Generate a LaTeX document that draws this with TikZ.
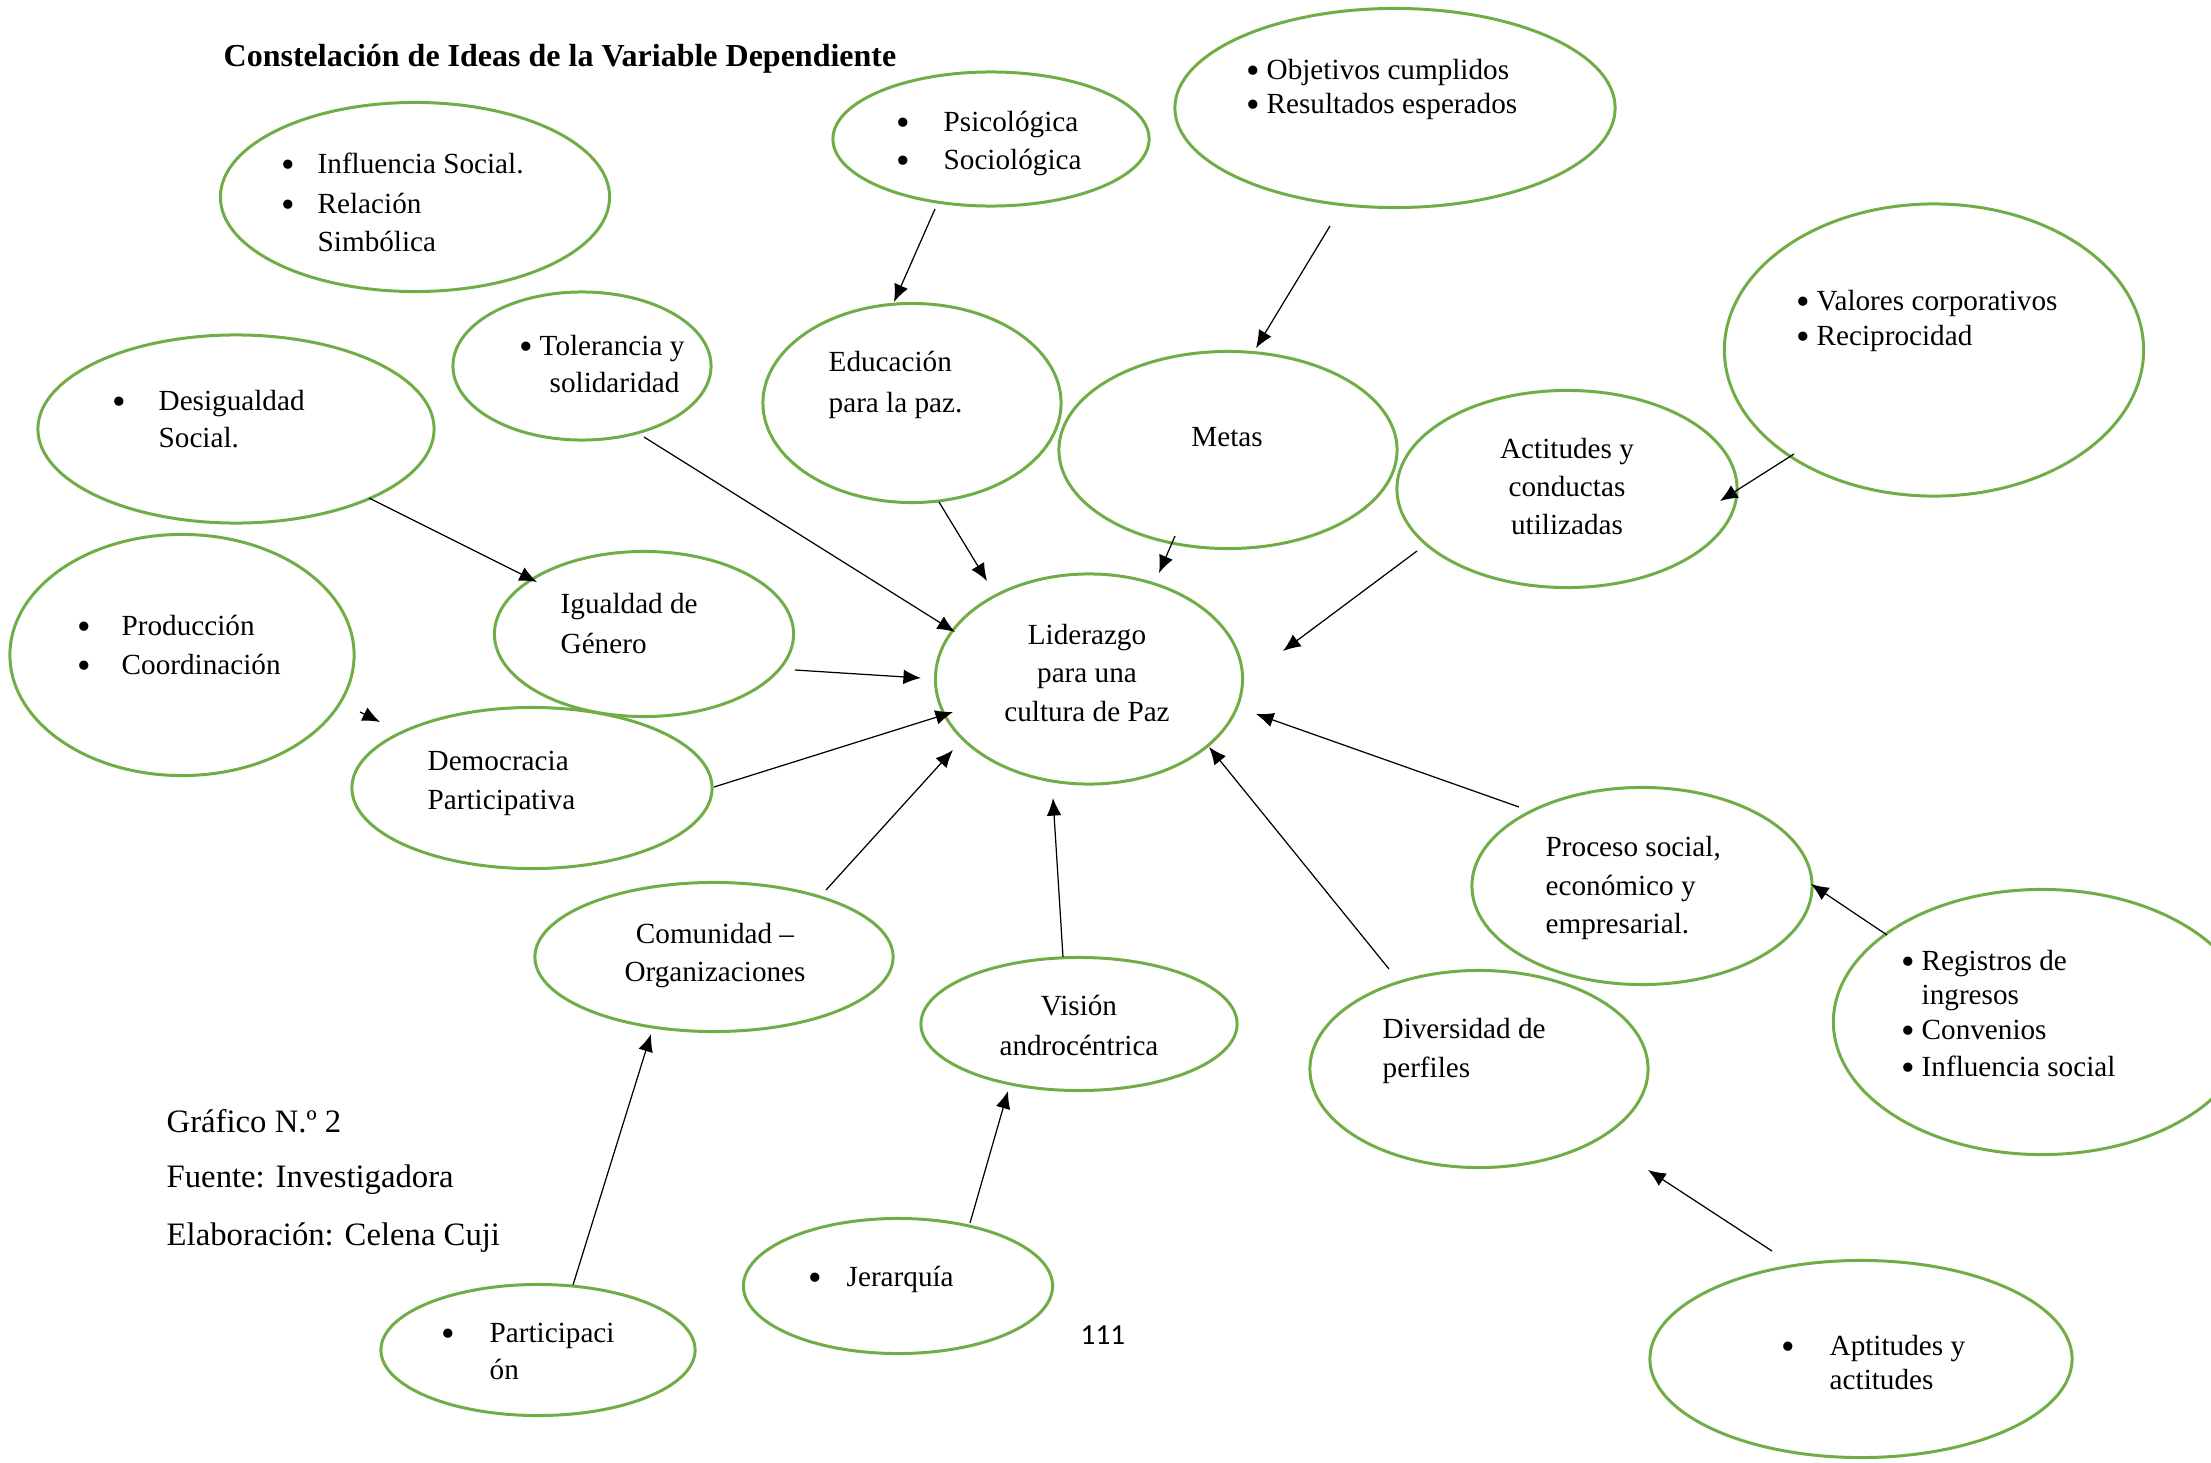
\documentclass[tikz,border=0pt]{standalone}
\usepackage{fontspec}
\setmainfont{Liberation Serif}
\newfontfamily\pagenumfont{Carlito}
\usetikzlibrary{shapes.geometric,arrows.meta}
\definecolor{egreen}{RGB}{112,173,71}
\newcommand{\bulmark}{\raisebox{-1.3pt}{\fontsize{11}{11}\selectfont •}}
\tikzset{
  ell/.style={ellipse, draw=egreen, line width=0.85pt, inner sep=0pt},
  txt/.style={anchor=base west, inner sep=0pt, font=\fontsize{8.3}{10}\selectfont},
  bul/.style={anchor=base west, inner sep=0pt},
  ctxt/.style={anchor=base, inner sep=0pt, font=\fontsize{8.3}{10}\selectfont},
  lbl/.style={anchor=base west, inner sep=0pt, font=\fontsize{9.3}{11}\selectfont},
  arr/.style={-{Latex[length=5pt,width=4.2pt]}, line width=0.35pt, black}
}
\begin{document}
\begin{tikzpicture}[x=0.01cm,y=-0.01cm]
\useasboundingbox (0,0) rectangle (2211,1463);
\clip (0,0) rectangle (2211,1463);
% ellipses
\node[ell, minimum width=3.89cm, minimum height=1.89cm] (infl) at (415,197) {};
\node[ell, minimum width=3.16cm, minimum height=1.34cm] (psic) at (991,139) {};
\node[ell, minimum width=4.40cm, minimum height=1.99cm] (obj) at (1395,108) {};
\node[ell, minimum width=4.19cm, minimum height=2.92cm] (val) at (1934,350) {};
\node[ell, minimum width=2.58cm, minimum height=1.48cm] (tol) at (582,366) {};
\node[ell, minimum width=2.98cm, minimum height=1.99cm] (edu) at (912,403) {};
\node[ell, minimum width=3.96cm, minimum height=1.88cm] (desig) at (236,429) {};
\node[ell, minimum width=3.38cm, minimum height=1.97cm] (metas) at (1228,450) {};
\node[ell, minimum width=3.40cm, minimum height=1.97cm] (acti) at (1567,489) {};
\node[ell, minimum width=3.44cm, minimum height=2.41cm] (prod) at (182,655) {};
\node[ell, minimum width=2.99cm, minimum height=1.65cm] (igual) at (644,634) {};
\node[ell, minimum width=3.07cm, minimum height=2.10cm] (lider) at (1089,679) {};
\node[ell, minimum width=3.60cm, minimum height=1.61cm] (demo) at (532,788) {};
\node[ell, minimum width=3.40cm, minimum height=1.97cm] (proc) at (1642,886) {};
\node[ell, minimum width=4.17cm, minimum height=2.65cm] (regis) at (2042,1022) {};
\node[ell, minimum width=3.58cm, minimum height=1.49cm] (comu) at (714,957) {};
\node[ell, minimum width=3.16cm, minimum height=1.33cm] (vision) at (1079,1024) {};
\node[ell, minimum width=3.38cm, minimum height=1.97cm] (diver) at (1479,1069) {};
\node[ell, minimum width=3.14cm, minimum height=1.31cm] (parti) at (538,1350) {};
\node[ell, minimum width=3.09cm, minimum height=1.35cm] (jerar) at (898,1286) {};
\node[ell, minimum width=4.22cm, minimum height=1.97cm] (aptit) at (1861,1359) {};
% texts
\node[anchor=base west, inner sep=0pt, font=\fontsize{9.1}{11}\selectfont\bfseries] (title) at (223,66) {Constelación de Ideas de la Variable Dependiente};
\node[bul] (b1a) at (281,173) {\bulmark};
\node[txt] (t1a) at (317,173) {Influencia Social.};
\node[bul] (b1b) at (281,213) {\bulmark};
\node[txt] (t1b) at (317,213) {Relación};
\node[txt] (t1c) at (317,251) {Simbólica};
\node[bul] (b2a) at (896,131) {\bulmark};
\node[txt] (t2a) at (943,131) {Psicológica};
\node[bul] (b2b) at (896,169) {\bulmark};
\node[txt] (t2b) at (943,169) {Sociológica};
\node[bul] (b3a) at (1246,79) {\bulmark};
\node[txt] (t3a) at (1266,79) {Objetivos cumplidos};
\node[bul] (b3b) at (1246,113) {\bulmark};
\node[txt] (t3b) at (1266,113) {Resultados esperados};
\node[bul] (b4a) at (1796,310) {\bulmark};
\node[txt] (t4a) at (1816,310) {Valores corporativos};
\node[bul] (b4b) at (1796,345) {\bulmark};
\node[txt] (t4b) at (1816,345) {Reciprocidad};
\node[bul] (b5a) at (519,355) {\bulmark};
\node[txt] (t5a) at (539,355) {Tolerancia y};
\node[txt] (t5b) at (549,392) {solidaridad};
\node[txt] (t6a) at (828,371) {Educación};
\node[txt] (t6b) at (828,412) {para la paz.};
\node[bul] (b7a) at (112,410) {\bulmark};
\node[txt] (t7a) at (158,410) {Desigualdad};
\node[txt] (t7b) at (158,447) {Social.};
\node[ctxt] (t8a) at (1227,446) {Metas};
\node[ctxt] (t9a) at (1567,458) {Actitudes y};
\node[ctxt] (t9b) at (1567,496) {conductas};
\node[ctxt] (t9c) at (1567,534) {utilizadas};
\node[bul] (b10a) at (77,635) {\bulmark};
\node[txt] (t10a) at (121,635) {Producción};
\node[bul] (b10b) at (77,674) {\bulmark};
\node[txt] (t10b) at (121,674) {Coordinación};
\node[txt] (t11a) at (560,613) {Igualdad de};
\node[txt] (t11b) at (560,653) {Género};
\node[ctxt] (t12a) at (1087,644) {Liderazgo};
\node[ctxt] (t12b) at (1087,682) {para una};
\node[ctxt] (t12c) at (1087,721) {cultura de Paz};
\node[txt] (t13a) at (427,770) {Democracia};
\node[txt] (t13b) at (427,809) {Participativa};
\node[txt] (t14a) at (1545,856) {Proceso social,};
\node[txt] (t14b) at (1545,895) {económico y};
\node[txt] (t14c) at (1545,933) {empresarial.};
\node[bul] (b15a) at (1901,970) {\bulmark};
\node[txt] (t15a) at (1921,970) {Registros de};
\node[txt] (t15b) at (1921,1004) {ingresos};
\node[bul] (b15c) at (1901,1039) {\bulmark};
\node[txt] (t15c) at (1921,1039) {Convenios};
\node[bul] (b15d) at (1901,1076) {\bulmark};
\node[txt] (t15d) at (1921,1076) {Influencia social};
\node[ctxt] (t16a) at (715,943) {Comunidad –};
\node[ctxt] (t16b) at (715,981) {Organizaciones};
\node[ctxt] (t17a) at (1079,1015) {Visión};
\node[ctxt] (t17b) at (1079,1055) {androcéntrica};
\node[txt] (t18a) at (1382,1038) {Diversidad de};
\node[txt] (t18b) at (1382,1077) {perfiles};
\node[bul] (b19a) at (441,1342) {\bulmark};
\node[txt] (t19a) at (489,1342) {Participaci};
\node[txt] (t19b) at (489,1379) {ón};
\node[bul] (b20a) at (808,1286) {\bulmark};
\node[txt] (t20a) at (846,1286) {Jerarquía};
\node[bul] (b21a) at (1781,1355) {\bulmark};
\node[txt] (t21a) at (1829,1355) {Aptitudes y};
\node[txt] (t21b) at (1829,1389) {actitudes};
\node[anchor=base west, inner sep=0pt, font=\pagenumfont\fontsize{8.3}{10}\selectfont] (pnum) at (1080,1344) {111};
\node[lbl] (g1) at (166,1132) {Gráfico N.º 2};
\node[lbl] (g2) at (166,1187) {Fuente: Investigadora};
\node[lbl] (g3) at (166,1245) {Elaboración: Celena Cuji};
% connector end points
\coordinate (aS) at (935,209);  \coordinate (aE) at (894,302);
\coordinate (bS) at (1330,226); \coordinate (bE) at (1256,348);
\coordinate (cS) at (1794,454); \coordinate (cE) at (1720,501);
\coordinate (dS) at (644,437);  \coordinate (dE) at (955,632);
\coordinate (eS) at (939,502);  \coordinate (eE) at (987,581);
\coordinate (fS) at (1175,536); \coordinate (fE) at (1159,573);
\coordinate (gS) at (1417,551); \coordinate (gE) at (1283,651);
\coordinate (hS) at (369,498);  \coordinate (hE) at (537,582);
\coordinate (iS) at (795,670);  \coordinate (iE) at (921,678);
\coordinate (jS) at (360,712);  \coordinate (jE) at (380,722);
\coordinate (kS) at (714,787);  \coordinate (kE) at (953,712);
\coordinate (lS) at (826,890);  \coordinate (lE) at (953,750);
\coordinate (mS) at (1063,957); \coordinate (mE) at (1053,798);
\coordinate (nS) at (1389,969); \coordinate (nE) at (1209,747);
\coordinate (oS) at (1519,807); \coordinate (oE) at (1256,714);
\coordinate (pS) at (1887,935); \coordinate (pE) at (1811,884);
\coordinate (qS) at (573,1285); \coordinate (qE) at (651,1034);
\coordinate (rS) at (970,1223); \coordinate (rE) at (1008,1091);
\coordinate (sS) at (1772,1251); \coordinate (sE) at (1648,1170);
% connectors
\foreach \a in {a,b,c,d,e,f,g,h,i,j,k,l,m,n,o,p,q,r,s}
  \draw[arr] (\a S) -- (\a E);
\end{tikzpicture}
\end{document}
